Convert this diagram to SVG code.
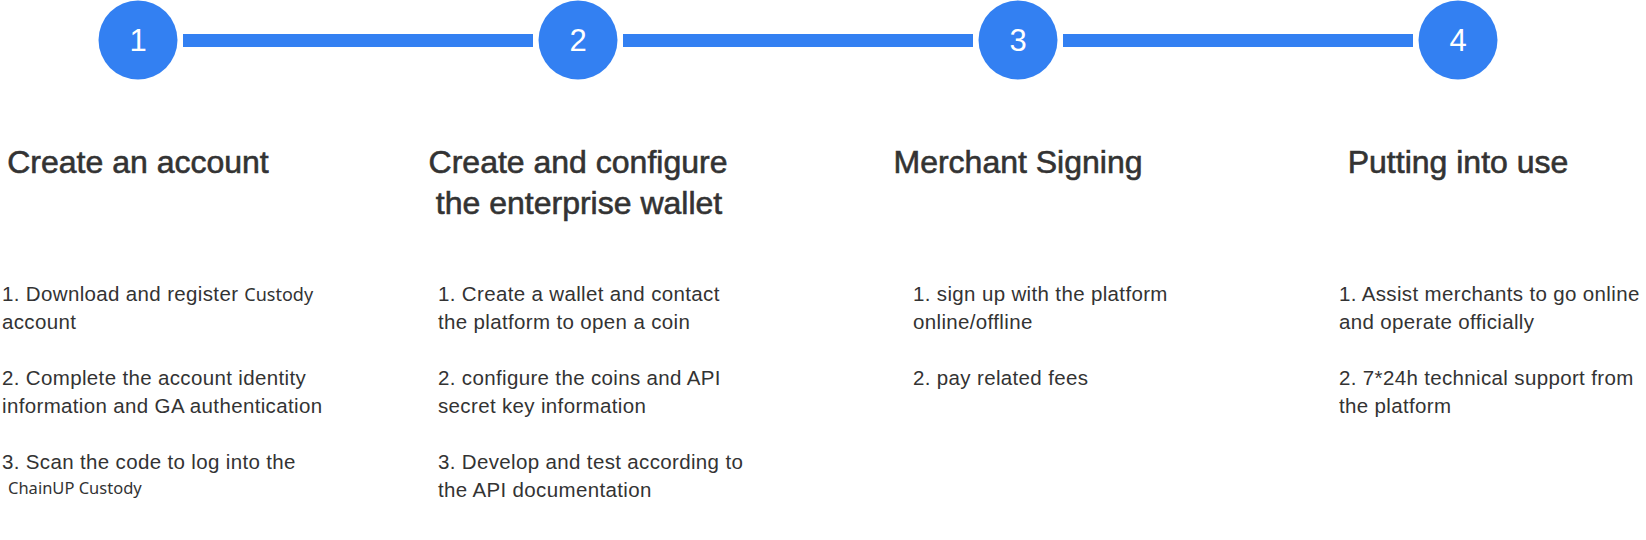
<svg xmlns="http://www.w3.org/2000/svg" width="1646" height="540" viewBox="0 0 1646 540">
  <style>
    .dot { fill: #3380F2; }
    .num { font-family: "Liberation Sans", Arial, sans-serif; font-size: 31px; fill: #ffffff; text-anchor: middle; }
    .head { font-family: "Liberation Sans", Arial, sans-serif; font-size: 32px; fill: #333333; stroke: #333333; stroke-width: 0.6px; text-anchor: middle; }
    .body { font-family: "Liberation Sans", Arial, sans-serif; font-size: 20.5px; letter-spacing: 0.35px; fill: #333333; }
    .alt { font-family: "Noto Sans", "DejaVu Sans", sans-serif; font-size: 16.5px; letter-spacing: 0; fill: #333333; }
    .alt2 { font-family: "Noto Sans", "DejaVu Sans", sans-serif; font-size: 18px; letter-spacing: 0; }
    .conn { stroke: #3380F2; stroke-width: 13; fill: none; }
  </style>
  <rect width="1646" height="540" fill="#ffffff"/>
  <g id="connectors">
    <line class="conn" x1="183" y1="40.5" x2="533" y2="40.5"/>
    <line class="conn" x1="623" y1="40.5" x2="973" y2="40.5"/>
    <line class="conn" x1="1063" y1="40.5" x2="1413" y2="40.5"/>
  </g>
  <g id="step1">
    <circle class="dot" cx="138" cy="40" r="39.5"/>
    <text class="num" x="138" y="51">1</text>
    <text class="head" x="138" y="173">Create an account</text>
    <text class="body" x="2" y="301">1. Download and register <tspan class="alt2">Custody</tspan></text>
    <text class="body" x="2" y="329">account</text>
    <text class="body" x="2" y="385">2. Complete the account identity</text>
    <text class="body" x="2" y="413">information and GA authentication</text>
    <text class="body" x="2" y="469">3. Scan the code to log into the</text>
    <text class="alt" x="8" y="494">ChainUP Custody</text>
  </g>
  <g id="step2">
    <circle class="dot" cx="578" cy="40" r="39.5"/>
    <text class="num" x="578" y="51">2</text>
    <text class="head" x="578" y="173">Create and configure</text>
    <text class="head" x="579" y="214">the enterprise wallet</text>
    <text class="body" x="438" y="301">1. Create a wallet and contact</text>
    <text class="body" x="438" y="329">the platform to open a coin</text>
    <text class="body" x="438" y="385">2. configure the coins and API</text>
    <text class="body" x="438" y="413">secret key information</text>
    <text class="body" x="438" y="469">3. Develop and test according to</text>
    <text class="body" x="438" y="497">the API documentation</text>
  </g>
  <g id="step3">
    <circle class="dot" cx="1018" cy="40" r="39.5"/>
    <text class="num" x="1018" y="51">3</text>
    <text class="head" x="1018" y="173">Merchant Signing</text>
    <text class="body" x="913" y="301">1. sign up with the platform</text>
    <text class="body" x="913" y="329">online/offline</text>
    <text class="body" x="913" y="385">2. pay related fees</text>
  </g>
  <g id="step4">
    <circle class="dot" cx="1458" cy="40" r="39.5"/>
    <text class="num" x="1458" y="51">4</text>
    <text class="head" x="1458" y="173">Putting into use</text>
    <text class="body" x="1339" y="301">1. Assist merchants to go online</text>
    <text class="body" x="1339" y="329">and operate officially</text>
    <text class="body" x="1339" y="385">2. 7*24h technical support from</text>
    <text class="body" x="1339" y="413">the platform</text>
  </g>
</svg>
